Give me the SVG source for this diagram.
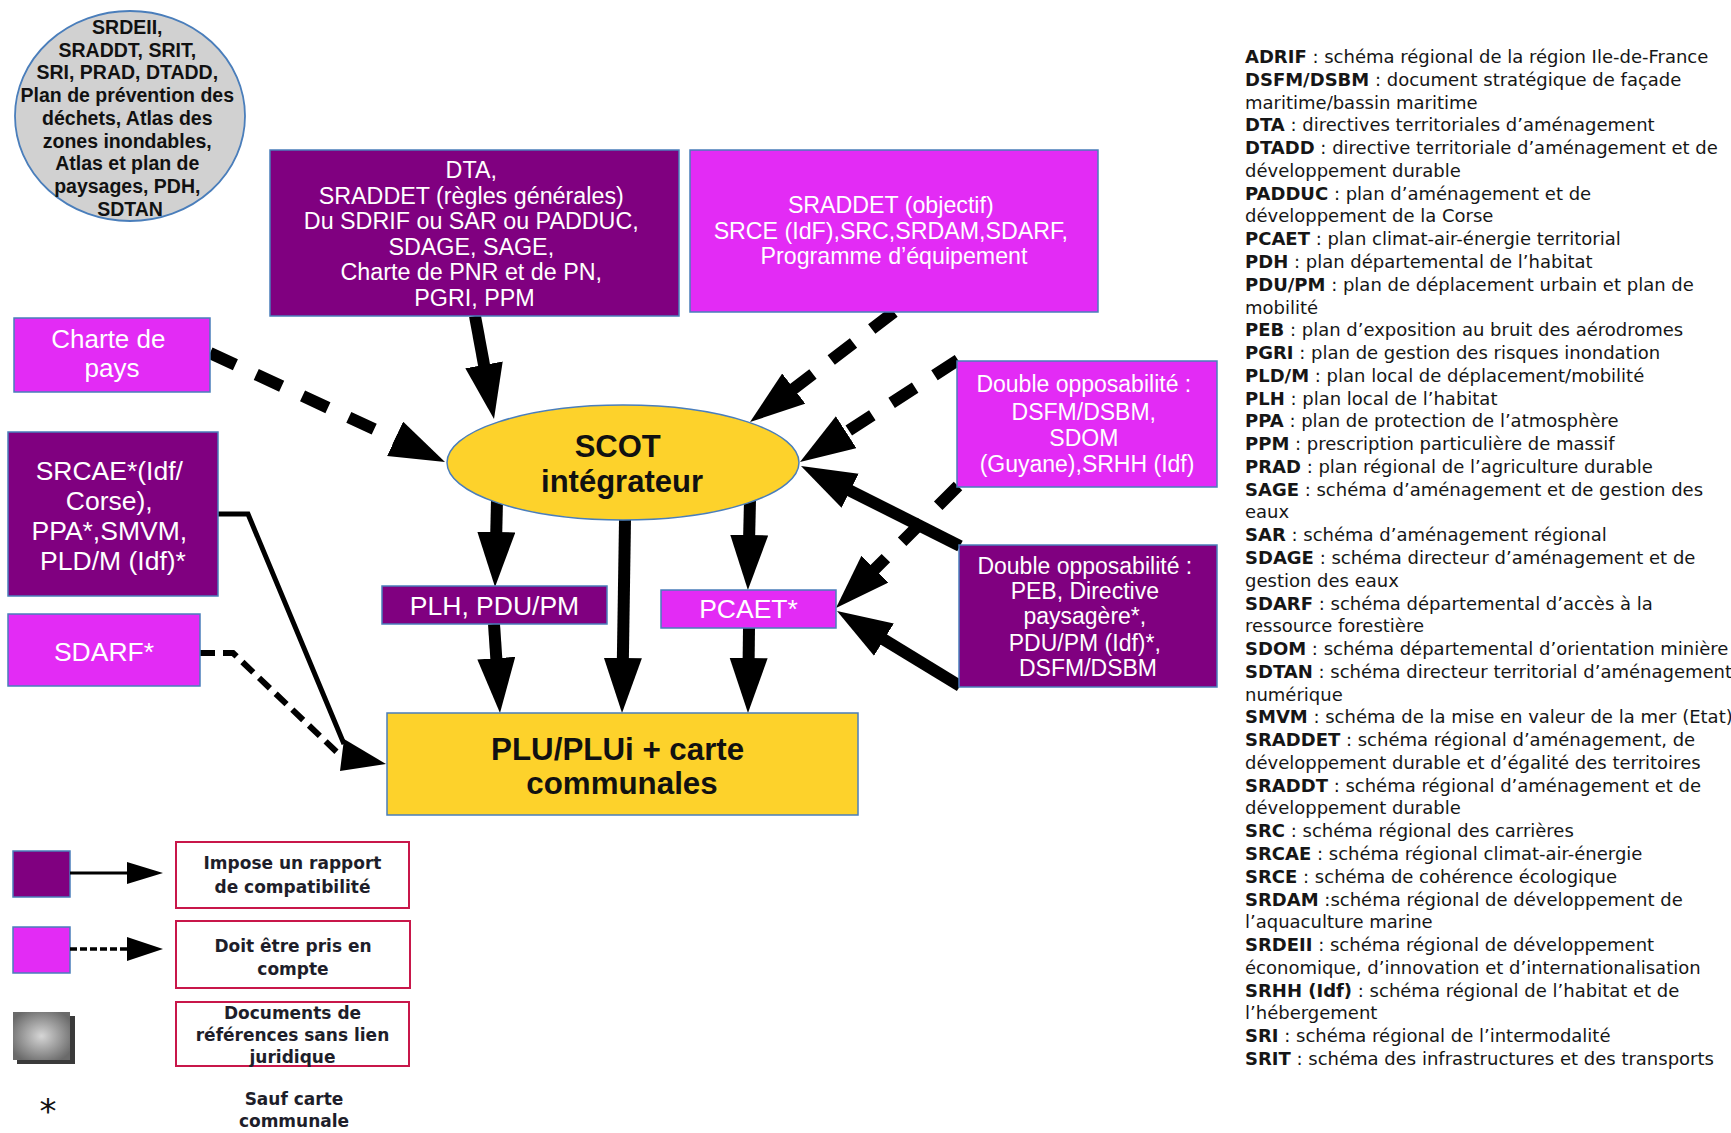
<svg xmlns="http://www.w3.org/2000/svg" width="1731" height="1133" viewBox="0 0 1731 1133">
<defs>
<style>
.dark{fill:#800080;stroke:#4a7ebb;stroke-width:1.5}
.mag{fill:#e32bf5;stroke:#4a7ebb;stroke-width:1.5}
.yel{fill:#fdd22b;stroke:#4a7ebb;stroke-width:1.5}
.wt{font-family:"Liberation Sans",Arial,sans-serif;fill:#ffffff;text-anchor:middle}
.bt{font-family:"Liberation Sans",Arial,sans-serif;font-weight:bold;fill:#111;text-anchor:middle}
.lg{font-family:"DejaVu Sans",Verdana,sans-serif;font-weight:bold;fill:#1e1e2a;font-size:17px;text-anchor:middle}
.lbox{fill:none;stroke:#c8174a;stroke-width:2}
.gl{font-family:"DejaVu Sans",Verdana,sans-serif;font-size:18px;fill:#161616}
.gl tspan.b{font-weight:bold}
.thick{fill:none;stroke:#000;stroke-width:12;marker-end:url(#ah)}
.dash{stroke-dasharray:28 23}
</style>
<marker id="ah" markerUnits="userSpaceOnUse" markerWidth="58" markerHeight="40" refX="12" refY="19" orient="auto">
<path d="M0,0 L55,19 L0,38 Z" fill="#000"/>
</marker>
<radialGradient id="gg" cx="0.5" cy="0.5" r="0.6">
<stop offset="0" stop-color="#d6d6d6"/>
<stop offset="1" stop-color="#6a6a6a"/>
</radialGradient>
</defs>
<rect width="1731" height="1133" fill="#ffffff"/>

<g id="connectors">
<path class="thick" d="M475,316 L486.2,376.7"/>
<path class="thick dash" d="M894,312 L784.2,395.9"/>
<path class="thick dash" d="M210,353 L406,443.9"/>
<path class="thick dash" d="M958,360 L836.1,438.7"/>
<path class="thick" d="M960,546 L839.4,485.3"/>
<path class="thick dash" d="M958,486 L866.4,577.6"/>
<path class="thick" d="M960,686 L873.7,633.4"/>
<path class="thick" d="M497,500 L496,544"/>
<path class="thick" d="M625,520 L622.7,670"/>
<path class="thick" d="M750,500 L748.9,547"/>
<path class="thick" d="M494,624 L497.1,670.1"/>
<path class="thick" d="M749,628 L748.5,670"/>
<path d="M218,514 H248 L344,744" fill="none" stroke="#000" stroke-width="5"/>
<path d="M200,653 H233 L342,757" fill="none" stroke="#000" stroke-width="6" stroke-dasharray="15 8"/>
<polygon points="344,739 386,764 340,771" fill="#000"/>
</g>

<g id="node-ref-docs">
<ellipse cx="130" cy="116" rx="115" ry="105" fill="#d1d1d1" stroke="#4a7ebb" stroke-width="1.8"/>
<text class="bt" font-size="19.5">
<tspan x="130" y="34">SRDEII,</tspan>
<tspan x="130" y="56.7">SRADDT, SRIT,</tspan>
<tspan x="130" y="79.4">SRI, PRAD, DTADD,</tspan>
<tspan x="130" y="102.1">Plan de prévention des</tspan>
<tspan x="130" y="124.8">déchets, Atlas des</tspan>
<tspan x="130" y="147.5">zones inondables,</tspan>
<tspan x="130" y="170.2">Atlas et plan de</tspan>
<tspan x="130" y="192.9">paysages, PDH,</tspan>
<tspan x="130" y="215.6">SDTAN</tspan>
</text>
</g>

<g id="node-dta">
<rect class="dark" x="270" y="150" width="409" height="166"/>
<text class="wt" font-size="23.3">
<tspan x="474.5" y="178">DTA,</tspan>
<tspan x="474.5" y="203.5">SRADDET (règles générales)</tspan>
<tspan x="474.5" y="229">Du SDRIF ou SAR ou PADDUC,</tspan>
<tspan x="474.5" y="254.5">SDAGE, SAGE,</tspan>
<tspan x="474.5" y="280">Charte de PNR et de PN,</tspan>
<tspan x="474.5" y="305.5">PGRI, PPM</tspan>
</text>
</g>

<g id="node-sraddet">
<rect class="mag" x="690" y="150" width="408" height="162"/>
<text class="wt" font-size="23.2">
<tspan x="894" y="213">SRADDET (objectif)</tspan>
<tspan x="894" y="239">SRCE (IdF),SRC,SRDAM,SDARF,</tspan>
<tspan x="894" y="264">Programme d’équipement</tspan>
</text>
</g>

<g id="node-charte">
<rect class="mag" x="14" y="318" width="196" height="74"/>
<text class="wt" font-size="26">
<tspan x="112" y="348">Charte de</tspan>
<tspan x="112" y="377">pays</tspan>
</text>
</g>

<g id="node-srcae">
<rect class="dark" x="8" y="432" width="210" height="164"/>
<text class="wt" font-size="26.5">
<tspan x="113" y="479.5">SRCAE*(Idf/</tspan>
<tspan x="113" y="510">Corse),</tspan>
<tspan x="113" y="540">PPA*,SMVM,</tspan>
<tspan x="113" y="570">PLD/M (Idf)*</tspan>
</text>
</g>

<g id="node-sdarf">
<rect class="mag" x="8" y="614" width="192" height="72"/>
<text class="wt" font-size="26.5" x="104" y="661">SDARF*</text>
</g>

<g id="node-scot">
<ellipse class="yel" cx="623" cy="462.5" rx="176" ry="57.5"/>
<text class="bt" font-size="31">
<tspan x="622" y="457">SCOT</tspan>
<tspan x="622" y="492">intégrateur</tspan>
</text>
</g>

<g id="node-plh">
<rect class="dark" x="382" y="586" width="225" height="38"/>
<text class="wt" font-size="26.5" x="494.5" y="615">PLH, PDU/PM</text>
</g>

<g id="node-pcaet">
<rect class="mag" x="661" y="590" width="175" height="38"/>
<text class="wt" font-size="26.5" x="748.5" y="618">PCAET*</text>
</g>

<g id="node-plu">
<rect class="yel" x="387" y="713" width="471" height="102"/>
<text class="bt" font-size="31.3">
<tspan x="622" y="760">PLU/PLUi + carte</tspan>
<tspan x="622" y="794">communales</tspan>
</text>
</g>

<g id="node-double1">
<rect class="mag" x="957" y="361" width="260" height="126"/>
<text class="wt" font-size="23">
<tspan x="1087" y="392">Double opposabilité :</tspan>
<tspan x="1087" y="420">DSFM/DSBM,</tspan>
<tspan x="1087" y="445.5">SDOM</tspan>
<tspan x="1087" y="472">(Guyane),SRHH (Idf)</tspan>
</text>
</g>

<g id="node-double2">
<rect class="dark" x="959" y="545" width="258" height="142"/>
<text class="wt" font-size="23">
<tspan x="1088" y="574">Double opposabilité :</tspan>
<tspan x="1088" y="599">PEB, Directive</tspan>
<tspan x="1088" y="624">paysagère*,</tspan>
<tspan x="1088" y="651">PDU/PM (Idf)*,</tspan>
<tspan x="1088" y="676">DSFM/DSBM</tspan>
</text>
</g>

<g id="legend">
<rect class="dark" x="13" y="851" width="57" height="46"/>
<line x1="70" y1="873" x2="128" y2="873" stroke="#000" stroke-width="3"/>
<polygon points="127,862 163,873 127,884" fill="#000"/>
<rect class="lbox" x="176" y="842" width="233" height="66"/>
<text class="lg"><tspan x="292.5" y="869">Impose un rapport</tspan><tspan x="292.5" y="893">de compatibilité</tspan></text>

<rect class="mag" x="13" y="927" width="57" height="46"/>
<line x1="70" y1="949" x2="128" y2="949" stroke="#000" stroke-width="3.5" stroke-dasharray="7 3"/>
<polygon points="127,937 163,949 127,961" fill="#000"/>
<rect class="lbox" x="176" y="921" width="234" height="67"/>
<text class="lg"><tspan x="293" y="952">Doit être pris en</tspan><tspan x="293" y="975">compte</tspan></text>

<rect x="17" y="1016" width="58" height="48" fill="#3a3a3a"/>
<rect x="13" y="1012" width="57" height="48" fill="url(#gg)"/>
<rect class="lbox" x="176" y="1002" width="233" height="64"/>
<text class="lg"><tspan x="292.5" y="1019">Documents de</tspan><tspan x="292.5" y="1041">références sans lien</tspan><tspan x="292.5" y="1063">juridique</tspan></text>

<text x="48" y="1123" font-family="DejaVu Sans,sans-serif" font-size="34" text-anchor="middle" fill="#111">*</text>
<text class="lg"><tspan x="294" y="1105">Sauf carte</tspan><tspan x="294" y="1127">communale</tspan></text>
</g>

<g id="glossary">
<text class="gl">
<tspan x="1245" y="63"><tspan class="b">ADRIF</tspan> : schéma régional de la région Ile-de-France</tspan>
<tspan x="1245" y="85.8"><tspan class="b">DSFM/DSBM</tspan> : document stratégique de façade</tspan>
<tspan x="1245" y="108.5">maritime/bassin maritime</tspan>
<tspan x="1245" y="131.3"><tspan class="b">DTA</tspan> : directives territoriales d’aménagement</tspan>
<tspan x="1245" y="154.1"><tspan class="b">DTADD</tspan> : directive territoriale d’aménagement et de</tspan>
<tspan x="1245" y="176.9">développement durable</tspan>
<tspan x="1245" y="199.6"><tspan class="b">PADDUC</tspan> : plan d’aménagement et de</tspan>
<tspan x="1245" y="222.4">développement de la Corse</tspan>
<tspan x="1245" y="245.2"><tspan class="b">PCAET</tspan> : plan climat-air-énergie territorial</tspan>
<tspan x="1245" y="267.9"><tspan class="b">PDH</tspan> : plan départemental de l’habitat</tspan>
<tspan x="1245" y="290.7"><tspan class="b">PDU/PM</tspan> : plan de déplacement urbain et plan de</tspan>
<tspan x="1245" y="313.5">mobilité</tspan>
<tspan x="1245" y="336.2"><tspan class="b">PEB</tspan> : plan d’exposition au bruit des aérodromes</tspan>
<tspan x="1245" y="359"><tspan class="b">PGRI</tspan> : plan de gestion des risques inondation</tspan>
<tspan x="1245" y="381.8"><tspan class="b">PLD/M</tspan> : plan local de déplacement/mobilité</tspan>
<tspan x="1245" y="404.6"><tspan class="b">PLH</tspan> : plan local de l’habitat</tspan>
<tspan x="1245" y="427.3"><tspan class="b">PPA</tspan> : plan de protection de l’atmosphère</tspan>
<tspan x="1245" y="450.1"><tspan class="b">PPM</tspan> : prescription particulière de massif</tspan>
<tspan x="1245" y="472.9"><tspan class="b">PRAD</tspan> : plan régional de l’agriculture durable</tspan>
<tspan x="1245" y="495.6"><tspan class="b">SAGE</tspan> : schéma d’aménagement et de gestion des</tspan>
<tspan x="1245" y="518.4">eaux</tspan>
<tspan x="1245" y="541.2"><tspan class="b">SAR</tspan> : schéma d’aménagement régional</tspan>
<tspan x="1245" y="563.9"><tspan class="b">SDAGE</tspan> : schéma directeur d’aménagement et de</tspan>
<tspan x="1245" y="586.7">gestion des eaux</tspan>
<tspan x="1245" y="609.5"><tspan class="b">SDARF</tspan> : schéma départemental d’accès à la</tspan>
<tspan x="1245" y="632.3">ressource forestière</tspan>
<tspan x="1245" y="655"><tspan class="b">SDOM</tspan> : schéma départemental d’orientation minière</tspan>
<tspan x="1245" y="677.8"><tspan class="b">SDTAN</tspan> : schéma directeur territorial d’aménagement</tspan>
<tspan x="1245" y="700.6">numérique</tspan>
<tspan x="1245" y="723.3"><tspan class="b">SMVM</tspan> : schéma de la mise en valeur de la mer (Etat)</tspan>
<tspan x="1245" y="746.1"><tspan class="b">SRADDET</tspan> : schéma régional d’aménagement, de</tspan>
<tspan x="1245" y="768.9">développement durable et d’égalité des territoires</tspan>
<tspan x="1245" y="791.6"><tspan class="b">SRADDT</tspan> : schéma régional d’aménagement et de</tspan>
<tspan x="1245" y="814.4">développement durable</tspan>
<tspan x="1245" y="837.2"><tspan class="b">SRC</tspan> : schéma régional des carrières</tspan>
<tspan x="1245" y="860"><tspan class="b">SRCAE</tspan> : schéma régional climat-air-énergie</tspan>
<tspan x="1245" y="882.7"><tspan class="b">SRCE</tspan> : schéma de cohérence écologique</tspan>
<tspan x="1245" y="905.5"><tspan class="b">SRDAM</tspan> :schéma régional de développement de</tspan>
<tspan x="1245" y="928.3">l’aquaculture marine</tspan>
<tspan x="1245" y="951"><tspan class="b">SRDEII</tspan> : schéma régional de développement</tspan>
<tspan x="1245" y="973.8">économique, d’innovation et d’internationalisation</tspan>
<tspan x="1245" y="996.6"><tspan class="b">SRHH (Idf)</tspan> : schéma régional de l’habitat et de</tspan>
<tspan x="1245" y="1019.3">l’hébergement</tspan>
<tspan x="1245" y="1042.1"><tspan class="b">SRI</tspan> : schéma régional de l’intermodalité</tspan>
<tspan x="1245" y="1064.9"><tspan class="b">SRIT</tspan> : schéma des infrastructures et des transports</tspan>
</text>
</g>
</svg>
